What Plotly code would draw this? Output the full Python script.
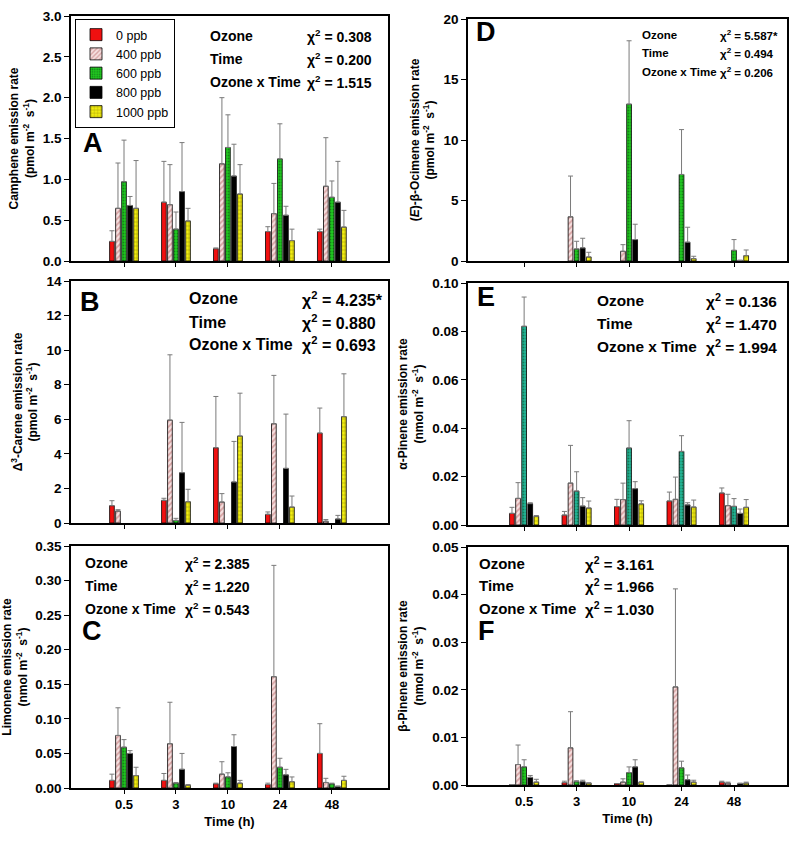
import plotly.graph_objects as go
from plotly.subplots import make_subplots

times = ["0.5", "3", "10", "24", "48"]
ozone = ["0 ppb", "400 ppb", "600 ppb", "800 ppb", "1000 ppb"]

# rows = ozone level, columns = time
camphene_mean = [
    [0.24, 0.72, 0.15, 0.36, 0.36],
    [0.645, 0.69, 1.19, 0.58, 0.915],
    [0.97, 0.39, 1.39, 1.25, 0.78],
    [0.68, 0.85, 1.04, 0.56, 0.72],
    [0.645, 0.49, 0.82, 0.25, 0.415],
]
camphene_err = [
    [0.13, 0.50, 0.01, 0.06, 0.03],
    [0.555, 0.49, 0.81, 0.37, 0.595],
    [0.51, 0.21, 0.40, 0.43, 0.20],
    [0.11, 0.60, 0.39, 0.11, 0.50],
    [0.585, 0.155, 0.36, 0.14, 0.205],
]
carene_mean = [
    [1.0, 1.31, 4.35, 0.50, 5.20],
    [0.69, 5.95, 1.21, 5.74, 0.10],
    [0, 0.15, 0, 0, 0],
    [0, 2.91, 2.37, 3.16, 0.23],
    [0, 1.23, 5.03, 0.92, 6.15],
]
carene_err = [
    [0.29, 0.12, 2.97, 0.14, 1.45],
    [0.08, 3.78, 0.49, 2.80, 0.10],
    [0, 0.12, 0, 0, 0],
    [0, 2.91, 2.35, 3.14, 0.21],
    [0, 0.72, 2.48, 0.64, 2.48],
]
limonene_mean = [
    [0.011, 0.011, 0.006, 0.005, 0.050],
    [0.076, 0.064, 0.020, 0.161, 0.008],
    [0.059, 0.007, 0.016, 0.030, 0.006],
    [0.050, 0.027, 0.060, 0.019, 0.002],
    [0.018, 0.004, 0.007, 0.009, 0.011],
]
limonene_err = [
    [0.009, 0.010, 0.001, 0.002, 0.043],
    [0.040, 0.060, 0.018, 0.161, 0.006],
    [0.011, 0.001, 0.006, 0.013, 0.001],
    [0.004, 0.023, 0.017, 0.008, 0.001],
    [0.012, 0.001, 0.004, 0.007, 0.006],
]
ocimene_mean = [
    [0, 0, 0, 0, 0],
    [0, 3.65, 0.80, 0, 0],
    [0, 0.99, 12.96, 7.15, 0.88],
    [0, 1.08, 1.77, 1.55, 0.05],
    [0, 0.33, 0, 0.19, 0.44],
]
ocimene_err = [
    [0, 0, 0, 0, 0],
    [0, 3.37, 0.55, 0, 0],
    [0, 0.64, 5.24, 3.71, 0.89],
    [0, 0.80, 1.27, 1.24, 0],
    [0, 0.39, 0, 0.20, 0.47],
]
apinene_mean = [
    [0.0048, 0.0041, 0.0076, 0.0099, 0.0132],
    [0.011, 0.0173, 0.0105, 0.0106, 0.008],
    [0.0821, 0.014, 0.0318, 0.0304, 0.0077],
    [0.0088, 0.0078, 0.015, 0.0083, 0.0048],
    [0.0036, 0.007, 0.0087, 0.0074, 0.0073],
]
apinene_err = [
    [0.0025, 0.0015, 0.003, 0.0037, 0.0021],
    [0.0065, 0.0156, 0.0068, 0.0092, 0.0047],
    [0.0121, 0.008, 0.0113, 0.0065, 0.0032],
    [0.0004, 0.0035, 0.0029, 0.0009, 0.0018],
    [0.0003, 0.0029, 0.0013, 0.0029, 0.0032],
]
bpinene_mean = [
    [0.0001, 0.0005, 0.0003, 0.0001, 0.0006],
    [0.0043, 0.0078, 0.0006, 0.0206, 0.0004],
    [0.0038, 0.0007, 0.0026, 0.0036, 0],
    [0.0016, 0.0007, 0.0038, 0.0011, 0.0003],
    [0.0006, 0.0004, 0.0006, 0.0006, 0.0004],
]
bpinene_err = [
    [0, 0.0003, 0, 0, 0.0002],
    [0.0041, 0.0076, 0.0007, 0.0206, 0.0002],
    [0.0015, 0.0002, 0.0012, 0.0014, 0],
    [0.0004, 0.0003, 0.0015, 0.001, 0.0001],
    [0.0006, 0, 0, 0.0004, 0.0002],
]

stat_names = ["Ozone", "Time", "Ozone x Time"]
camphene_stats = ["0.308", "0.200", "1.515"]
carene_stats = ["4.235*", "0.880", "0.693"]
limonene_stats = ["2.385", "1.220", "0.543"]
ocimene_stats = ["5.587*", "0.494", "0.206"]
apinene_stats = ["0.136", "1.470", "1.994"]
bpinene_stats = ["3.161", "1.966", "1.030"]

W, H = 800, 841
FONT = "Liberation Sans, Arial, sans-serif"


def fx(p):
    return p / W


def fy(p):
    return 1 - p / H


GREEN = "#1fc81f"
TEAL = "#22b496"


def bar_style(i, green):
    if i == 0:
        return dict(color="#f01010")
    if i == 1:
        return dict(color="#f4d8d8", pattern=dict(shape="/", fgcolor="#b86464", bgcolor="#f6e0e0",
                                                  size=4, solidity=0.45, fillmode="overlay"))
    if i == 2:
        return dict(color=green, pattern=dict(shape=".", fgcolor="#0b3d12", bgcolor=green,
                                              size=3, solidity=0.3, fillmode="overlay"))
    if i == 3:
        return dict(color="#000000")
    return dict(color="#f2ee10", pattern=dict(shape="+", fgcolor="#3b3400", bgcolor="#f2ee10",
                                              size=4, solidity=0.22, fillmode="overlay"))


ylab_unit_p = "(pmol m<sup>-2</sup>  s<sup>-1</sup>)"
ylab_unit_n = "(nmol m<sup>-2</sup>  s<sup>-1</sup>)"

panels = [
    dict(row=1, col=1, mean=camphene_mean, err=camphene_err, stats=camphene_stats,
         title="Camphene emission rate<br>" + ylab_unit_p, ymax=3.0, dtick=0.5, fmt=".1f",
         xdom=(71, 388), ydom=(16, 261), xr=(-1.02, 5.08), letter="A", lxy=(93, 143),
         sx=(208, 305), sy=(36, 59, 82), ss=14, green=GREEN),
    dict(row=1, col=2, mean=ocimene_mean, err=ocimene_err, stats=ocimene_stats,
         title="(<i>E</i>)-β-Ocimene emission rate<br>" + ylab_unit_p, ymax=20, dtick=5, fmt="d",
         xdom=(468, 787), ydom=(19, 261), xr=(-1.07, 5.01), letter="D", lxy=(486, 32),
         sx=(640, 718), sy=(35, 53, 72), ss=11.5, green=GREEN),
    dict(row=2, col=1, mean=carene_mean, err=carene_err, stats=carene_stats,
         title="Δ<sup>3</sup>-Carene emission rate<br>" + ylab_unit_p, ymax=14, dtick=2, fmt="d",
         xdom=(71, 388), ydom=(281, 523), xr=(-1.02, 5.08), letter="B", lxy=(90, 302),
         sx=(187, 300), sy=(299, 322, 344), ss=16, green=GREEN),
    dict(row=2, col=2, mean=apinene_mean, err=apinene_err, stats=apinene_stats,
         title="α-Pinene emission rate<br>" + ylab_unit_n, ymax=0.10, dtick=0.02, fmt=".2f",
         xdom=(468, 787), ydom=(283, 525), xr=(-1.07, 5.01), letter="E", lxy=(486, 297),
         sx=(595, 704), sy=(300, 323, 346), ss=15.4, green=TEAL),
    dict(row=3, col=1, mean=limonene_mean, err=limonene_err, stats=limonene_stats,
         title="Limonene emission rate<br>" + ylab_unit_n, ymax=0.35, dtick=0.05, fmt=".2f",
         xdom=(71, 388), ydom=(546, 788), xr=(-1.02, 5.08), letter="C", lxy=(92, 631),
         sx=(83, 183), sy=(563, 586, 609), ss=14, green=GREEN),
    dict(row=3, col=2, mean=bpinene_mean, err=bpinene_err, stats=bpinene_stats,
         title="β-Pinene emission rate<br>" + ylab_unit_n, ymax=0.05, dtick=0.01, fmt=".2f",
         xdom=(468, 787), ydom=(547, 785), xr=(-1.07, 5.01), letter="F", lxy=(486, 631),
         sx=(477, 583), sy=(563, 585, 608), ss=15, green=GREEN),
]

fig = make_subplots(rows=3, cols=2)
xpos = list(range(len(times)))
annotations = []

for p in panels:
    for i, name in enumerate(ozone):
        vals = [v if v else None for v in p["mean"][i]]
        err = [e if e else None for e in p["err"][i]]
        errm = [0 if e else None for e in p["err"][i]]
        mk = bar_style(i, p["green"])
        mk["line"] = dict(color="black", width=0.8)
        fig.add_trace(go.Bar(
            x=xpos, y=vals, name=name, marker=mk,
            legendgroup=name, showlegend=(p["letter"] == "A"),
            error_y=dict(type="data", array=err, arrayminus=errm, symmetric=False,
                         color="#7a7a7a", thickness=1, width=2.5),
        ), row=p["row"], col=p["col"])

    bottom = p["row"] == 3
    fig.update_xaxes(
        domain=[fx(p["xdom"][0]), fx(p["xdom"][1])], range=list(p["xr"]),
        tickmode="array", tickvals=xpos, ticktext=times, showticklabels=bottom,
        ticks="outside", ticklen=4, tickwidth=1.2, tickcolor="black",
        showline=True, mirror=True, linecolor="black", linewidth=1.5,
        showgrid=False, zeroline=False, automargin=False,
        tickfont=dict(family=FONT, size=13, color="black", weight="bold"),
        title=dict(text="Time (h)" if bottom else None, standoff=6,
                   font=dict(family=FONT, size=13, color="black", weight="bold")),
        row=p["row"], col=p["col"])
    fig.update_yaxes(
        domain=[fy(p["ydom"][1]), fy(p["ydom"][0])], range=[0, p["ymax"]],
        tick0=0, dtick=p["dtick"], tickformat=p["fmt"],
        ticks="outside", ticklen=5, tickwidth=1.2, tickcolor="black",
        showline=True, mirror=True, linecolor="black", linewidth=1.5,
        showgrid=False, zeroline=False, automargin=False,
        tickfont=dict(family=FONT, size=13.5, color="black", weight="bold"),
        title=dict(text=p["title"], standoff=6,
                   font=dict(family=FONT, size=12, color="black", weight="bold")),
        row=p["row"], col=p["col"])

    annotations.append(dict(
        x=fx(p["lxy"][0]), y=fy(p["lxy"][1]), xref="paper", yref="paper",
        text=p["letter"], showarrow=False, xanchor="center", yanchor="middle",
        font=dict(family=FONT, size=27, color="black", weight="bold")))
    for k, label in enumerate(stat_names):
        annotations.append(dict(
            x=fx(p["sx"][0]), y=fy(p["sy"][k]), xref="paper", yref="paper",
            text=label, showarrow=False, xanchor="left", yanchor="middle",
            font=dict(family=FONT, size=p["ss"], color="black", weight="bold")))
        annotations.append(dict(
            x=fx(p["sx"][1]), y=fy(p["sy"][k]), xref="paper", yref="paper",
            text="χ<sup>2</sup> = " + p["stats"][k], showarrow=False,
            xanchor="left", yanchor="middle",
            font=dict(family=FONT, size=p["ss"], color="black", weight="bold")))

fig.update_layout(
    width=W, height=H,
    margin=dict(l=0, r=0, t=0, b=0, autoexpand=False),
    paper_bgcolor="white", plot_bgcolor="white",
    barmode="group", bargap=0.42, bargroupgap=0.22,
    font=dict(family=FONT, color="black"),
    annotations=annotations,
    legend=dict(x=fx(75), y=fy(19), xanchor="left", yanchor="top",
                bgcolor="white", bordercolor="black", borderwidth=1,
                font=dict(family=FONT, size=12.5, color="black"),
                itemwidth=30, tracegroupgap=0),
)

fig.write_html("out.html", config={"displayModeBar": False},
               post_script="document.body.style.margin='0';")
